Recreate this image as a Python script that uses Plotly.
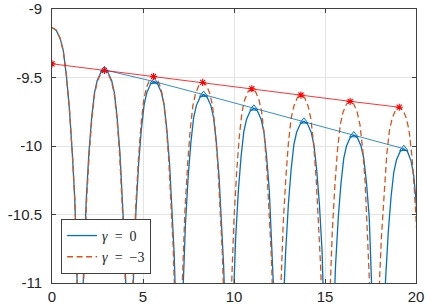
import plotly.graph_objects as go

# ---- data ----
# gamma = 0 curve (blue, solid); points below -11 are outside the visible range (nulls)
blue_x = [0, 0.23, 0.45, 0.62, 0.79, 0.96, 1.13, 1.25, 1.36,
          1.54,
          1.68, 1.78, 1.88, 2.03, 2.18, 2.33, 2.48, 2.68, 2.88, 3.08, 3.28, 3.43, 3.58, 3.73, 3.88, 3.98, 4.08,
          4.245,
          4.41, 4.51, 4.61, 4.76, 4.91, 5.06, 5.21, 5.41, 5.61, 5.81, 6.01, 6.16, 6.31, 6.46, 6.61, 6.71, 6.81,
          6.97,
          7.13, 7.23, 7.33, 7.48, 7.63, 7.78, 7.93, 8.13, 8.33, 8.53, 8.73, 8.88, 9.03, 9.18, 9.33, 9.43, 9.53,
          9.71,
          9.89, 9.99, 10.09, 10.24, 10.39, 10.54, 10.69, 10.89, 11.09, 11.29, 11.49, 11.64, 11.79, 11.94, 12.09, 12.19, 12.29,
          12.46,
          12.64, 12.74, 12.84, 12.99, 13.14, 13.29, 13.44, 13.64, 13.84, 14.04, 14.24, 14.39, 14.54, 14.69, 14.84, 14.94, 15.04,
          15.21,
          15.38, 15.48, 15.58, 15.73, 15.88, 16.03, 16.18, 16.38, 16.58, 16.78, 16.98, 17.13, 17.28, 17.43, 17.58, 17.68, 17.78,
          17.955,
          18.13, 18.23, 18.33, 18.48, 18.63, 18.78, 18.93, 19.13, 19.33, 19.53, 19.73, 19.88, 20.03]
blue_y = [-9.135, -9.155, -9.215, -9.305, -9.485, -9.735, -10.085, -10.385, -10.815,
          -12.5,
          -11.124, -10.694, -10.394, -10.044, -9.794, -9.614, -9.524, -9.464, -9.444, -9.464, -9.524, -9.614, -9.794, -10.044, -10.394, -10.694, -11.124,
          -12.5,
          -11.21, -10.78, -10.48, -10.13, -9.88, -9.70, -9.61, -9.55, -9.53, -9.55, -9.61, -9.70, -9.88, -10.13, -10.48, -10.78, -11.21,
          -12.5,
          -11.305, -10.875, -10.575, -10.225, -9.975, -9.795, -9.705, -9.645, -9.625, -9.645, -9.705, -9.795, -9.975, -10.225, -10.575, -10.875, -11.305,
          -12.5,
          -11.405, -10.975, -10.675, -10.325, -10.075, -9.895, -9.805, -9.745, -9.725, -9.745, -9.805, -9.895, -10.075, -10.325, -10.675, -10.975, -11.405,
          -12.5,
          -11.50, -11.07, -10.77, -10.42, -10.17, -9.99, -9.90, -9.84, -9.82, -9.84, -9.90, -9.99, -10.17, -10.42, -10.77, -11.07, -11.50,
          -12.5,
          -11.60, -11.17, -10.87, -10.52, -10.27, -10.09, -10.00, -9.94, -9.92, -9.94, -10.00, -10.09, -10.27, -10.52, -10.87, -11.17, -11.60,
          -12.5,
          -11.70, -11.27, -10.97, -10.62, -10.37, -10.19, -10.10, -10.04, -10.02, -10.04, -10.11, -10.22, -10.45]

# gamma = -3 curve (orange, dashed)
orange_x = [0, 0.23, 0.45, 0.62, 0.79, 0.96, 1.13, 1.25, 1.36,
            1.54,
            1.70, 1.80, 1.90, 2.05, 2.19, 2.34, 2.49, 2.68, 2.88, 3.08, 3.27, 3.42, 3.57, 3.71, 3.86, 3.96, 4.06,
            4.23,
            4.40, 4.50, 4.60, 4.75, 4.89, 5.04, 5.19, 5.38, 5.58, 5.78, 5.97, 6.12, 6.27, 6.41, 6.56, 6.66, 6.76,
            6.93,
            7.10, 7.20, 7.30, 7.45, 7.59, 7.74, 7.89, 8.08, 8.28, 8.48, 8.67, 8.82, 8.97, 9.11, 9.26, 9.36, 9.46,
            9.63,
            9.80, 9.90, 10.00, 10.15, 10.29, 10.44, 10.59, 10.78, 10.98, 11.18, 11.37, 11.52, 11.67, 11.81, 11.96, 12.06, 12.16,
            12.33,
            12.50, 12.60, 12.70, 12.85, 12.99, 13.14, 13.29, 13.48, 13.68, 13.88, 14.07, 14.22, 14.37, 14.51, 14.66, 14.76, 14.86,
            15.03,
            15.20, 15.30, 15.40, 15.55, 15.69, 15.84, 15.99, 16.18, 16.38, 16.58, 16.77, 16.92, 17.07, 17.21, 17.36, 17.46, 17.56,
            17.73,
            17.90, 18.00, 18.10, 18.25, 18.39, 18.54, 18.69, 18.88, 19.08, 19.28, 19.47, 19.62, 19.77, 19.91, 20.06]
orange_y = [-9.135, -9.155, -9.215, -9.305, -9.485, -9.735, -10.085, -10.385, -10.815,
            -12.5,
            -11.129, -10.699, -10.399, -10.049, -9.799, -9.619, -9.529, -9.469, -9.449, -9.469, -9.529, -9.619, -9.799, -10.049, -10.399, -10.699, -11.129,
            -12.5,
            -11.173, -10.743, -10.443, -10.093, -9.843, -9.663, -9.573, -9.513, -9.493, -9.513, -9.573, -9.663, -9.843, -10.093, -10.443, -10.743, -11.173,
            -12.5,
            -11.216, -10.786, -10.486, -10.136, -9.886, -9.706, -9.616, -9.556, -9.536, -9.556, -9.616, -9.706, -9.886, -10.136, -10.486, -10.786, -11.216,
            -12.5,
            -11.262, -10.832, -10.532, -10.182, -9.932, -9.752, -9.662, -9.602, -9.582, -9.602, -9.662, -9.752, -9.932, -10.182, -10.532, -10.832, -11.262,
            -12.5,
            -11.308, -10.878, -10.578, -10.228, -9.978, -9.798, -9.708, -9.648, -9.628, -9.648, -9.708, -9.798, -9.978, -10.228, -10.578, -10.878, -11.308,
            -12.5,
            -11.354, -10.924, -10.624, -10.274, -10.024, -9.844, -9.754, -9.694, -9.674, -9.694, -9.754, -9.844, -10.024, -10.274, -10.624, -10.924, -11.354,
            -12.5,
            -11.397, -10.967, -10.667, -10.317, -10.067, -9.887, -9.797, -9.737, -9.717, -9.737, -9.797, -9.887, -10.067, -10.317, -10.667]

# peak envelopes
blue_peak_x = [2.88, 5.61, 8.33, 11.09, 13.84, 16.58, 19.33]
blue_peak_y = [-9.444, -9.53, -9.625, -9.725, -9.82, -9.92, -10.02]
red_peak_x = [0, 2.88, 5.58, 8.28, 10.98, 13.68, 16.38, 19.08]
red_peak_y = [-9.40, -9.449, -9.493, -9.536, -9.582, -9.628, -9.674, -9.717]

legend_names = ["<i>γ</i>\u2002=\u20020", "<i>γ</i>\u2002=\u2002−3"]
x_ticks = [0, 5, 10, 15, 20]
x_ticktext = ["0", "5", "10", "15", "20"]
y_ticks = [-11, -10.5, -10, -9.5, -9]
y_ticktext = ["-11", "-10.5", "-10", "-9.5", "-9"]

BLUE = "#0072BD"
ORANGE = "#D95319"

fig = go.Figure()
fig.add_trace(go.Scatter(x=blue_x, y=blue_y, mode="lines", name=legend_names[0],
                         line=dict(color=BLUE, width=1.3)))
fig.add_trace(go.Scatter(x=orange_x, y=orange_y, mode="lines", name=legend_names[1],
                         line=dict(color=ORANGE, width=1.3, dash="6px,3.5px")))
fig.add_trace(go.Scatter(x=blue_peak_x, y=blue_peak_y, mode="lines+markers", showlegend=False,
                         line=dict(color=BLUE, width=0.8),
                         marker=dict(symbol="triangle-up-open", size=7, color=BLUE,
                                     line=dict(width=1, color=BLUE))))
fig.add_trace(go.Scatter(x=red_peak_x, y=red_peak_y, mode="lines+markers", showlegend=False,
                         line=dict(color="#ff0000", width=0.8),
                         marker=dict(symbol="asterisk-open", size=6, color="#ff0000",
                                     line=dict(width=1.1, color="#ff0000"))))

axis_common = dict(showline=True, linecolor="#404040", linewidth=1, mirror="ticks",
                   ticks="inside", ticklen=4, tickcolor="#404040", tickwidth=1,
                   showgrid=True, gridcolor="#e4e4e4", gridwidth=1, zeroline=False,
                   ticklabeloverflow="allow", automargin=False,
                   tickfont=dict(family="Liberation Sans, Arial, sans-serif", size=15, color="#262626"))

fig.update_xaxes(range=[0, 20], tickvals=x_ticks, ticktext=x_ticktext, **axis_common)
fig.update_yaxes(range=[-11, -9], tickvals=y_ticks, ticktext=y_ticktext, ticklabelstandoff=6, **axis_common)

fig.update_layout(
    width=427, height=305,
    margin=dict(l=52, r=11, t=9, b=22),
    paper_bgcolor="white", plot_bgcolor="white",
    showlegend=True,
    legend=dict(x=0.025, y=0.033, xanchor="left", yanchor="bottom",
                bgcolor="white", bordercolor="#404040", borderwidth=1,
                font=dict(family="Liberation Serif, DejaVu Serif, serif", size=14, color="#262626"),
                tracegroupgap=0, itemwidth=30),
)

fig.write_html("out.html", config={"displayModeBar": False},
               post_script="document.body.style.margin='0';")
